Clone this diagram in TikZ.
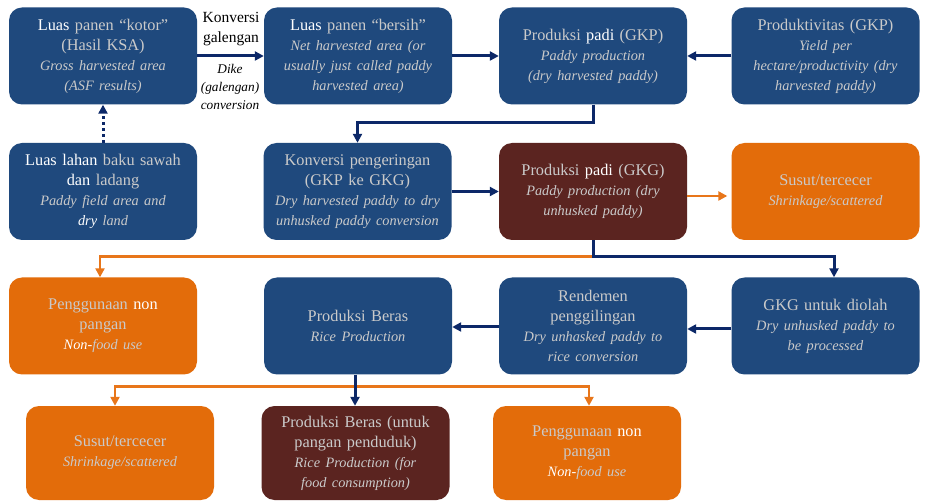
\documentclass[tikz,border=0pt]{standalone}
\usepackage{fontspec}
\setmainfont{Liberation Serif}
\usetikzlibrary{arrows.meta,calc}
\definecolor{boxblue}{HTML}{1F497D}
\definecolor{boxred}{HTML}{5B2420}
\definecolor{boxorange}{HTML}{E36C0A}
\definecolor{navyline}{HTML}{0C2868}
\definecolor{orangeline}{HTML}{E8761A}
\definecolor{tg}{HTML}{CACACA}
\newcommand\ital{\fontsize{14.3}{20}\selectfont\itshape}
\newcommand\wh[1]{{\color{white}#1}}
\begin{document}
\begin{tikzpicture}[x=1pt,y=-1pt,
  flowbox/.style={rectangle,rounded corners=13pt,minimum width=188pt,minimum height=97pt,
    text width=184pt,align=center,inner sep=0pt,text=tg,
    font=\fontsize{16.3}{20}\selectfont},
  bluebox/.style={flowbox,fill=boxblue},
  redbox/.style={flowbox,fill=boxred},
  orangebox/.style={flowbox,fill=boxorange},
  navyarrow/.style={draw=navyline,line width=3pt,-{Triangle[length=9pt,width=9pt]}},
  orangearrow/.style={draw=orangeline,line width=2.7pt,-{Triangle[length=9pt,width=9pt]}},
  lbl/.style={align=center,inner sep=0pt,text=black,font=\fontsize{15.5}{20.5}\selectfont}
]
\useasboundingbox[fill=white] (0,0) rectangle (926,502);

% row 1
\node[bluebox] (A) at (103,56) {\wh{Luas} panen “kotor”\\(Hasil KSA)\\\ital Gross harvested area\\(ASF results)};
\node[bluebox] (B) at (358,56) {\wh{Luas} panen “bersih”\\\ital Net harvested area (or\\usually just called paddy\\harvested area)};
\node[bluebox] (C) at (593,56) {Produksi \wh{padi} (GKP)\\\ital Paddy production\\(dry harvested paddy)};
\node[bluebox] (D) at (825.5,56) {Produktivitas (GKP)\\\ital Yield per\\hectare/productivity (dry\\harvested paddy)};
% row 2
\node[bluebox] (E) at (103,191.5) {\wh{Luas lahan} baku sawah\\\wh{dan} ladang\\\ital Paddy field area and\\\wh{dry} land};
\node[bluebox] (F) at (357.5,191.5) {Konversi pengeringan\\(GKP ke GKG)\\\ital Dry harvested paddy to dry\\unhusked paddy conversion};
\node[redbox] (G) at (593,191.5) {Produksi \wh{padi} (GKG)\\\ital Paddy production (dry\\unhusked paddy)};
\node[orangebox] (H) at (825.5,191.5) {Susut/tercecer\\\ital Shrinkage/scattered};
% row 3
\node[orangebox] (I) at (103,326) {Penggunaan \wh{non}\\pangan\\\ital \wh{Non-}food use};
\node[bluebox] (J) at (358,326) {Produksi Beras\\\ital Rice Production};
\node[bluebox] (K) at (593,326) {Rendemen\\penggilingan\\\ital Dry unhasked paddy to\\rice conversion};
\node[bluebox] (L) at (825.5,326) {GKG untuk diolah\\\ital Dry unhusked paddy to\\be processed};
% row 4
\node[orangebox,minimum height=94pt] (M) at (120,453) {Susut/tercecer\\\ital Shrinkage/scattered};
\node[redbox,minimum height=94pt] (N) at (355.5,453) {Produksi Beras (untuk\\pangan penduduk)\\\ital Rice Production (for\\food consumption)};
\node[orangebox,minimum height=94pt] (O) at (587,453) {Penggunaan \wh{non}\\pangan\\\ital \wh{Non-}food use};

% labels
\node[lbl] (lab1) at (231,29) {Konversi\\galengan};
\node[lbl,font=\fontsize{13.3}{18}\selectfont\itshape] (lab2) at (230,87) {Dike\\(galengan)\\conversion};

% connectors
\draw[navyarrow] (A.east) -- (B.west);
\draw[navyarrow,dash pattern=on 3pt off 3pt] (E.north) -- (A.south);
\draw[navyarrow] (B.east) -- (C.west);
\draw[navyarrow] (D.west) -- (C.east);
\coordinate (c1) at ($(C.south)+(0,18)$);
\draw[navyarrow] (C.south) -- (c1) -| (F.north);
\draw[navyarrow] (F.east) -- (G.west);
\draw[orangearrow] ([yshift=-4.5pt]G.east) -- ([xshift=-4pt,yshift=-4.5pt]H.west);

\coordinate (g1) at ($(G.south)+(0,16)$);
\coordinate (i1) at ($(I.north)+(-3,0)$);
\draw[orangearrow] (g1) -| (i1);
\coordinate (l1) at ($(L.north)+(8.5,0)$);
\draw[navyarrow] (G.south) -- (g1) -| (l1);

\draw[navyarrow] ([yshift=-3pt]L.west) -- ([yshift=-3pt]K.east);
\draw[navyarrow] ([yshift=-1pt]K.west) -- ([yshift=-1pt]J.east);

\coordinate (j0) at ($(J.south)+(-3,0)$);
\coordinate (j1) at ($(j0)+(0,12)$);
\coordinate (m1) at ($(M.north)+(-5,0)$);
\coordinate (o1) at ($(O.north)+(2,0)$);
\draw[orangearrow] (j1) -| (m1);
\draw[orangearrow] (j1) -| (o1);
\draw[navyarrow] (j0) -- (j0 |- N.north);
\end{tikzpicture}
\end{document}
